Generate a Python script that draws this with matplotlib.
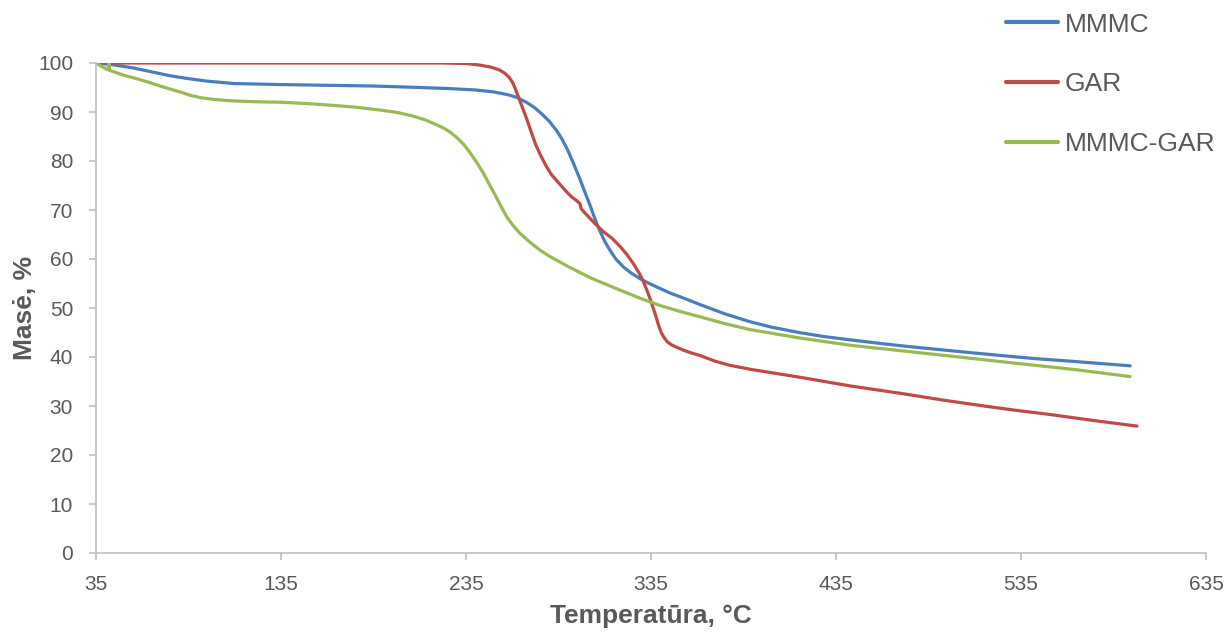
import matplotlib
matplotlib.use("Agg")
import matplotlib.pyplot as plt

plt.rcParams['font.family'] = ['Liberation Sans', 'DejaVu Sans']

# Thermogravimetric curves: temperature (°C) and remaining mass (%)
mmmc_t = [35, 45, 55, 65, 75, 85, 95, 110, 135, 160, 185, 210, 225, 240, 250,
          258, 263, 268, 272, 276, 280, 284, 287, 290, 293, 296.6, 299, 302, 305,
          307.4, 310, 312.8, 316, 320, 324, 329, 334, 339.8, 345, 350.7, 361.5,
          375, 388.5, 400, 415, 428, 442.6, 456, 470, 483, 496.6, 513, 530, 545,
          560, 577, 594]
mmmc_m = [100, 99.6, 99.0, 98.2, 97.4, 96.8, 96.3, 95.8, 95.6, 95.45, 95.3, 95.0,
          94.8, 94.5, 94.1, 93.5, 92.9, 91.9, 90.9, 89.6, 88.1, 86.2, 84.4, 82.2,
          79.6, 76.3, 73.9, 71.0, 67.9, 65.7, 63.6, 61.8, 60.0, 58.4, 57.2, 56.0,
          55.0, 54.0, 53.1, 52.3, 50.7, 48.8, 47.2, 46.1, 45.0, 44.2, 43.5, 42.9,
          42.3, 41.8, 41.3, 40.7, 40.1, 39.6, 39.2, 38.7, 38.2]

gar_t = [35, 100, 180, 221, 235, 242, 248, 253, 256, 258.5, 260.5, 262, 264, 266,
         268, 270, 272.5, 275, 278, 281, 284, 287, 289.4, 292, 294.5, 296.6,
         297.2, 299, 302, 305, 309.2, 314, 318.2, 322, 325.4, 328.5, 330.8, 332.8,
         334.5, 336, 337.5, 339, 340.5, 342, 343.8, 346, 348.8, 352.5, 357,
         361.5, 370, 377.7, 388.5, 415, 442.6, 469.6, 493, 515, 532.7, 550, 575,
         597.7]
gar_m = [100, 100, 100, 100, 99.9, 99.6, 99.2, 98.6, 97.9, 97.0, 95.8, 94.4,
         92.4, 90.4, 88.4, 86.2, 83.5, 81.4, 79.2, 77.3, 76.0, 74.7, 73.7, 72.7,
         72.0, 71.3, 70.3, 69.5, 68.3, 67.1, 65.6, 64.2, 62.6, 60.9, 59.1, 57.2,
         55.5, 53.6, 51.9, 50.2, 48.5, 46.6, 45.0, 44.0, 43.1, 42.5, 42.0, 41.4,
         40.8, 40.3, 39.1, 38.3, 37.5, 35.9, 34.1, 32.6, 31.2, 30.0, 29.1, 28.3,
         27.0, 25.9]

mix_t = [35, 38, 41.5, 42, 42.4, 50, 56, 62.4, 68, 74, 80.4, 86, 92, 98, 107.4,
         120, 134.5, 150, 161.5, 175, 188.5, 198, 206, 213, 219, 223, 226.4, 230,
         233.5, 237.2, 241, 244.4, 247.5, 250.7, 254, 257, 260.5, 264.3, 269, 275,
         280.4, 290, 302, 316, 329, 340, 350.7, 361.5, 375, 388.5, 415, 442.6,
         469.6, 496.6, 532.7, 565, 594]
mix_m = [100, 99.3, 98.6, 100, 98.5, 97.5, 96.9, 96.2, 95.5, 94.8, 94.1, 93.4,
         92.9, 92.6, 92.3, 92.1, 92.0, 91.7, 91.4, 91.0, 90.4, 89.9, 89.2, 88.4,
         87.4, 86.7, 85.9, 84.8, 83.5, 81.7, 79.6, 77.5, 75.3, 73.1, 70.7, 68.6,
         66.8, 65.2, 63.6, 61.8, 60.5, 58.5, 56.2, 54.0, 52.0, 50.5, 49.3, 48.2,
         46.8, 45.6, 43.9, 42.4, 41.3, 40.2, 38.7, 37.4, 36.0]

series_names = ['MMMC', 'GAR', 'MMMC-GAR']
series_colors = ['#4A7EBB', '#BE4B48', '#98B954']

x_ticks = [35, 135, 235, 335, 435, 535, 635]
y_ticks = list(range(0, 101, 10))

text_gray = '#595959'
axis_gray = '#BFBFBF'

fig = plt.figure(figsize=(12.27, 6.35), dpi=100)
ax = fig.add_axes([96 / 1227, 1 - 553 / 635, (1206 - 96) / 1227, (553 - 63) / 635])

for (t, m), name, col in zip([(mmmc_t, mmmc_m), (gar_t, gar_m), (mix_t, mix_m)],
                             series_names, series_colors):
    ax.plot(t, m, color=col, lw=2.3, label=name, solid_capstyle='round',
            solid_joinstyle='round')

ax.set_xlim(35, 635)
ax.set_ylim(0, 100)
ax.set_xticks(x_ticks)
ax.set_yticks(y_ticks)
ax.tick_params(axis='both', colors=axis_gray, labelcolor=text_gray,
               labelsize=15, length=5, width=1.2, direction='out')
ax.tick_params(axis='x', pad=11)
ax.tick_params(axis='y', pad=11.5)
for side in ['top', 'right']:
    ax.spines[side].set_visible(False)
for side in ['left', 'bottom']:
    ax.spines[side].set_color(axis_gray)
    ax.spines[side].set_linewidth(1.2)

ax.set_xlabel('Temperatūra, °C', fontsize=19, fontweight='bold', color=text_gray,
              labelpad=7)
ax.set_ylabel('Masė, %', fontsize=19, fontweight='bold', color=text_gray,
              labelpad=1)

leg = fig.legend(loc='upper left', bbox_to_anchor=(995 / 1227, 1 - 2 / 635),
                 frameon=False, fontsize=19, handlelength=2.0,
                 handletextpad=0.25, labelspacing=1.36, borderaxespad=0.0)
for txt in leg.get_texts():
    txt.set_color(text_gray)
for h in leg.get_lines():
    h.set_linewidth(3)

fig.savefig('out.png', dpi=100)
